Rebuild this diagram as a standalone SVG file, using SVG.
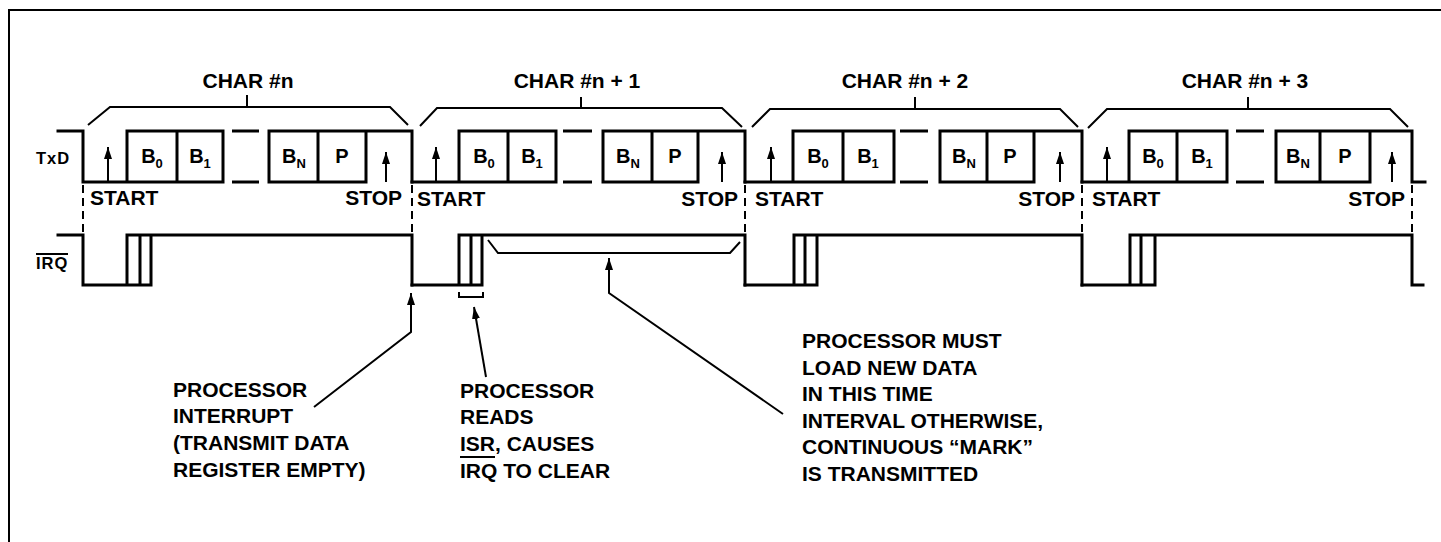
<svg xmlns="http://www.w3.org/2000/svg" width="1441" height="542" viewBox="0 0 1441 542">
<style>
.bg{fill:#fff}
.frame{fill:none;stroke:#000;stroke-width:2}
.wave{fill:none;stroke:#000;stroke-width:3;stroke-linejoin:miter;stroke-linecap:square}
.dash{fill:none;stroke:#000;stroke-width:3}
.vdash{fill:none;stroke:#000;stroke-width:2;stroke-dasharray:8 5}
.brk{fill:none;stroke:#000;stroke-width:2}
.arr{fill:none;stroke:#000;stroke-width:2}
text{font-family:"Liberation Sans",Arial,Helvetica,sans-serif;font-weight:bold;fill:#000}
.t{font-size:21px}
.lbl{font-size:16.5px;letter-spacing:1px}
.bit{font-size:20px;text-anchor:middle}
.sub{font-size:13px}
.mid{text-anchor:middle}
.end{text-anchor:end}
</style>
<defs>
<marker id="ah" viewBox="0 0 12 8" refX="12" refY="4" markerWidth="12" markerHeight="8" markerUnits="userSpaceOnUse" orient="auto">
<path d="M0,0 L12,4 L0,8 z" fill="#000"/>
</marker>
</defs>
<rect class="bg" x="0" y="0" width="1441" height="542"/>
<g id="frame">
<path class="frame" d="M9,542 V10 H1441"/>
</g>
<g id="signal-labels">
<text class="lbl" x="36" y="164">TxD</text>
<text class="lbl" x="36" y="269">IRQ</text>
<line class="brk" x1="36" y1="254" x2="68" y2="254"/>
</g>
<g id="txd">
<path class="wave" d="M58,131 H83 V182 H127 V131 H223 V182 H127 M177,131 V182 M269,182 V131 H412 V182 M269,182 H366 V131 M318,131 V182"/>
<path class="wave" d="M412,182 H459 V131 H556 V182 H459 M508,131 V182 M603,182 V131 H745 V182 M603,182 H698 V131 M652,131 V182"/>
<path class="wave" d="M745,182 H793 V131 H894 V182 H793 M843,131 V182 M940,182 V131 H1082 V182 M940,182 H1034 V131 M987,131 V182"/>
<path class="wave" d="M1082,182 H1129 V131 H1227 V182 H1129 M1177,131 V182 M1276,182 V131 H1412 V182 H1425 M1276,182 H1370 V131 M1320,131 V182"/>
<path class="dash" d="M232,131 H259 M232,182 H259 M563,131 H592 M563,182 H592 M900,131 H928 M900,182 H928 M1236,131 H1264 M1236,182 H1264"/>
</g>
<g id="irq">
<path class="wave" d="M58,235 H83 V285 H151 V235 M127,285 V235 H412 V285 M140,285 V235"/>
<path class="wave" d="M412,285 H482 V235 M459,285 V235 H745 V285 M471,285 V235"/>
<path class="wave" d="M745,285 H817 V235 M794,285 V235 H1082 V285 M805,285 V235"/>
<path class="wave" d="M1082,285 H1155 V235 M1130,285 V235 H1412 V285 H1423 M1141,285 V235"/>
</g>
<g id="boundaries">
<path class="vdash" d="M83,185 V233 M412,185 V233 M745,185 V233 M1082,185 V233 M1412,185 V233"/>
</g>
<g id="char-n">
<path class="brk" d="M88,125 L110,107 H390 L408,125 M247,95 V107"/>
<text class="t mid" x="248" y="88">CHAR #n</text>
<text class="bit" x="152" y="163">B<tspan class="sub" dy="5">0</tspan></text>
<text class="bit" x="200" y="163">B<tspan class="sub" dy="5">1</tspan></text>
<text class="bit" x="294" y="163">B<tspan class="sub" dy="5">N</tspan></text>
<text class="bit" x="342" y="163">P</text>
<text class="t" x="90" y="205">START</text>
<text class="t end" x="402" y="205">STOP</text>
</g>
<g id="char-n1">
<path class="brk" d="M420,126 L437,108 H722 L742,127 M581,97 V108"/>
<text class="t mid" x="577" y="88">CHAR #n + 1</text>
<text class="bit" x="484" y="163">B<tspan class="sub" dy="5">0</tspan></text>
<text class="bit" x="532" y="163">B<tspan class="sub" dy="5">1</tspan></text>
<text class="bit" x="628" y="163">B<tspan class="sub" dy="5">N</tspan></text>
<text class="bit" x="675" y="163">P</text>
<text class="t" x="417" y="206">START</text>
<text class="t end" x="738" y="206">STOP</text>
</g>
<g id="char-n2">
<path class="brk" d="M752,127 L770,109 H1060 L1078,127 M915,97 V109"/>
<text class="t mid" x="905" y="88">CHAR #n + 2</text>
<text class="bit" x="818" y="163">B<tspan class="sub" dy="5">0</tspan></text>
<text class="bit" x="868" y="163">B<tspan class="sub" dy="5">1</tspan></text>
<text class="bit" x="964" y="163">B<tspan class="sub" dy="5">N</tspan></text>
<text class="bit" x="1010" y="163">P</text>
<text class="t" x="755" y="206">START</text>
<text class="t end" x="1075" y="206">STOP</text>
</g>
<g id="char-n3">
<path class="brk" d="M1088,128 L1107,109 H1390 L1408,127 M1248,97 V109"/>
<text class="t mid" x="1245" y="88">CHAR #n + 3</text>
<text class="bit" x="1153" y="163">B<tspan class="sub" dy="5">0</tspan></text>
<text class="bit" x="1202" y="163">B<tspan class="sub" dy="5">1</tspan></text>
<text class="bit" x="1298" y="163">B<tspan class="sub" dy="5">N</tspan></text>
<text class="bit" x="1345" y="163">P</text>
<text class="t" x="1092" y="206">START</text>
<text class="t end" x="1405" y="206">STOP</text>
</g>
<g id="connectors">
<path class="arr" d="M108,183 V147" marker-end="url(#ah)"/>
<path class="arr" d="M386,182 V152" marker-end="url(#ah)"/>
<path class="arr" d="M436,183 V147" marker-end="url(#ah)"/>
<path class="arr" d="M722,182 V152" marker-end="url(#ah)"/>
<path class="arr" d="M771,183 V147" marker-end="url(#ah)"/>
<path class="arr" d="M1060,182 V152" marker-end="url(#ah)"/>
<path class="arr" d="M1107,183 V147" marker-end="url(#ah)"/>
<path class="arr" d="M1392,182 V152" marker-end="url(#ah)"/>
<path class="brk" d="M488,240 L498,253 H730 L740,242"/>
<path class="brk" d="M459,292 V297 H483 V292"/>
<path class="arr" d="M314,407 L411,332 V293" marker-end="url(#ah)"/>
<path class="arr" d="M486,377 L474,307" marker-end="url(#ah)"/>
<path class="arr" d="M783,414 L609,293 V258" marker-end="url(#ah)"/>
</g>
<g id="note-interrupt">
<text class="t" x="173" y="397">PROCESSOR</text>
<text class="t" x="173" y="423">INTERRUPT</text>
<text class="t" x="173" y="450">(TRANSMIT DATA</text>
<text class="t" x="173" y="477">REGISTER EMPTY)</text>
</g>
<g id="note-reads">
<text class="t" x="460" y="398">PROCESSOR</text>
<text class="t" x="460" y="424">READS</text>
<text class="t" x="460" y="451">ISR, CAUSES</text>
<text class="t" x="460" y="478">IRQ TO CLEAR</text>
<line class="brk" x1="460" y1="457" x2="495" y2="457"/>
</g>
<g id="note-must">
<text class="t" x="802" y="348">PROCESSOR MUST</text>
<text class="t" x="802" y="375">LOAD NEW DATA</text>
<text class="t" x="802" y="401">IN THIS TIME</text>
<text class="t" x="802" y="428">INTERVAL OTHERWISE,</text>
<text class="t" x="802" y="454">CONTINUOUS “MARK”</text>
<text class="t" x="802" y="481">IS TRANSMITTED</text>
</g>
</svg>
